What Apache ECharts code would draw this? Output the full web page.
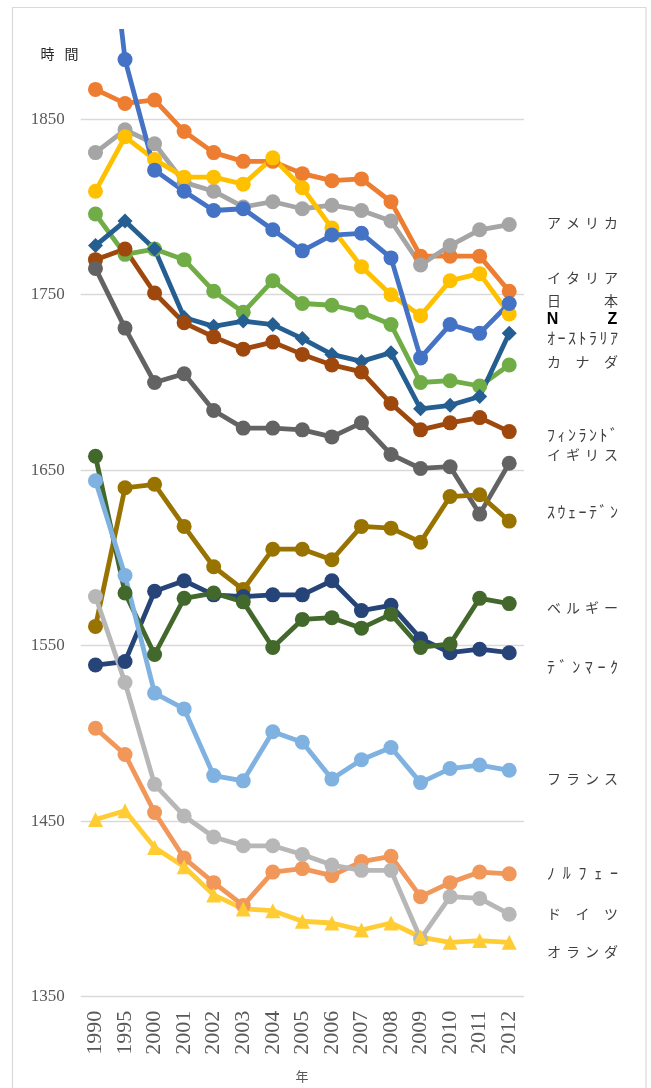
<!DOCTYPE html>
<html><head><meta charset="utf-8">
<script src="https://cdn.jsdelivr.net/npm/echarts@6/dist/echarts.min.js"></script>
<style>html,body{margin:0;padding:0;background:#fff}#c{width:651px;height:1088px}</style>
</head><body><div id="c"></div>
<script>
// ---- data ----
const years = ['1990','1995','2000','2001','2002','2003','2004','2005','2006','2007','2008','2009','2010','2011','2012'];
const yTickLabels = [1350, 1450, 1550, 1650, 1750, 1850];

const italy       = [1867, 1859, 1861, 1843, 1831, 1826, 1826, 1819, 1815, 1816, 1803, 1772, 1772, 1772, 1752];
const usa         = [1831, 1844, 1836, 1814, 1809, 1800, 1803, 1799, 1801, 1798, 1792, 1767, 1778, 1787, 1790];
const nz          = [1809, 1840, 1827, 1817, 1817, 1813, 1828, 1811, 1788, 1766, 1750, 1738, 1758, 1762, 1739];
const japan       = [2031, 1884, 1821, 1809, 1798, 1799, 1787, 1775, 1784, 1785, 1771, 1714, 1733, 1728, 1745];
const canada      = [1796, 1773, 1776, 1770, 1752, 1740, 1758, 1745, 1744, 1740, 1733, 1700, 1701, 1698, 1710];
const australia   = [1778, 1792, 1776, 1737, 1732, 1735, 1733, 1725, 1716, 1712, 1717, 1685, 1687, 1692, 1728];
const finland     = [1770, 1776, 1751, 1734, 1726, 1719, 1723, 1716, 1710, 1706, 1688, 1673, 1677, 1680, 1672];
const uk          = [1765, 1731, 1700, 1705, 1684, 1674, 1674, 1673, 1669, 1677, 1659, 1651, 1652, 1625, 1654];
const sweden      = [1561, 1640, 1642, 1618, 1595, 1582, 1605, 1605, 1599, 1618, 1617, 1609, 1635, 1636, 1621];
const denmark     = [1539, 1541, 1581, 1587, 1579, 1578, 1579, 1579, 1587, 1570, 1573, 1554, 1546, 1548, 1546];
const belgium     = [1658, 1580, 1545, 1577, 1580, 1575, 1549, 1565, 1566, 1560, 1568, 1549, 1551, 1577, 1574];
const france      = [1644, 1590, 1523, 1514, 1476, 1473, 1501, 1495, 1474, 1485, 1492, 1472, 1480, 1482, 1479];
const norway      = [1503, 1488, 1455, 1429, 1415, 1402, 1421, 1423, 1419, 1427, 1430, 1407, 1415, 1421, 1420];
const germany     = [1578, 1529, 1471, 1453, 1441, 1436, 1436, 1431, 1425, 1422, 1422, 1383, 1407, 1406, 1397];
const netherlands = [1451, 1456, 1435, 1424, 1408, 1400, 1399, 1393, 1392, 1388, 1392, 1384, 1381, 1382, 1381];

const seriesNames = ['イタリア','アメリカ','NZ','日本','カナダ','オーストラリア','フィンランド','イギリス','スウェーデン','デンマーク','ベルギー','フランス','ノルウェー','ドイツ','オランダ'];
const seriesData  = [italy, usa, nz, japan, canada, australia, finland, uk, sweden, denmark, belgium, france, norway, germany, netherlands];

// name labels shown at the right (text as in the picture)
const sideLabels = ['アメリカ','イタリア','日本','NZ','ｵｰｽﾄﾗﾘｱ','カナダ','ﾌｨﾝﾗﾝﾄﾞ','イギリス','ｽｳｪｰﾃﾞﾝ','ベルギー','ﾃﾞﾝﾏｰｸ','フランス','ﾉﾙﾌｪｰ','ドイツ','オランダ'];

// ---- styles / layout ----
const colors  = ['#ED7D31','#A5A5A5','#FFC000','#4472C4','#70AD47','#255E91','#9E480E','#636363','#997300','#264478','#43682B','#7FB2E0','#F1975A','#B7B7B7','#FFCD33'];
const symbols = ['circle','circle','circle','circle','circle','diamond','circle','circle','circle','circle','circle','circle','circle','circle','triangle'];
const sideLabelY = [222.7, 278, 301, 320, 338.3, 361.7, 435, 455, 511.7, 608, 666.7, 779, 873.3, 913.3, 952];

function isHalf(ch){ const c = ch.charCodeAt(0); return c >= 0xFF61 && c <= 0xFF9F; }
function isLatin(ch){ return ch.charCodeAt(0) < 0x100; }

function spreadText(str, x0, W, cy, opts){
  const chars = Array.from(str);
  const n = chars.length;
  const out = [];
  chars.forEach((ch, i) => {
    const half = isHalf(ch), latin = isLatin(ch);
    const cw = latin ? opts.latinW : (half ? opts.halfFs/2 : opts.fs);
    const step = n > 1 ? (W - cw) / (n - 1) : 0;
    const cx = x0 + cw/2 + i*step;
    out.push({
      type: 'text', x: cx, y: cy, silent: true,
      style: {
        text: ch, align: 'center', verticalAlign: 'middle',
        font: latin ? ('bold ' + opts.latinFs + 'px "Liberation Sans", Arial, sans-serif')
                    : ((half ? opts.halfFs : opts.fs) + 'px "Noto Sans CJK JP", sans-serif'),
        fill: latin ? '#000000' : opts.color
      }
    });
  });
  return out;
}

const graphics = [];
graphics.push({ type:'rect', silent:true, shape:{x:12.5, y:7.5, width:633.5, height:1100}, style:{fill:'none', stroke:'#D9D9D9', lineWidth:1.2}, z:-10 });
sideLabels.forEach((s, i) => {
  spreadText(s, 547, 71, sideLabelY[i], {fs:14, halfFs:16, latinW:11, latinFs:16, color:'#404040'}).forEach(g => graphics.push(g));
});
spreadText('時間', 40.5, 38, 53.3, {fs:14, halfFs:14, latinW:10, latinFs:14, color:'#262626'}).forEach(g => graphics.push(g));
graphics.push({ type:'text', x:302, y:1076, silent:true, style:{ text:'年', align:'center', verticalAlign:'middle', font:'13px "Noto Sans CJK JP", sans-serif', fill:'#595959' } });

const chart = echarts.init(document.getElementById('c'), null, {renderer:'canvas'});
chart.setOption({
  animation: false,
  backgroundColor: '#ffffff',
  grid: { left: 80.7, right: 127, top: 31.5, bottom: 91.3, containLabel: false },
  xAxis: {
    type: 'category', data: years, boundaryGap: true,
    axisLine: { show: false }, axisTick: { show: false },
    axisLabel: { rotate: 90, margin: 14, fontFamily: '"Liberation Serif", serif', fontSize: 22, color: '#595959', interval: 0 },
    splitLine: { show: false }
  },
  yAxis: {
    type: 'value', min: 1350, max: 1900, interval: 50,
    axisLine: { show: false }, axisTick: { show: false },
    axisLabel: {
      margin: 16, fontFamily: '"Liberation Serif", serif', fontSize: 17, color: '#595959',
      formatter: v => yTickLabels.indexOf(v) >= 0 ? String(v) : ''
    },
    splitLine: { show: true, showMaxLine: false, lineStyle: { color: ['#D9D9D9', 'rgba(0,0,0,0)'], width: 1.3 } }
  },
  series: seriesData.map((d, i) => ({
    name: seriesNames[i], type: 'line', data: d,
    symbol: symbols[i], symbolSize: 15,
    showAllSymbol: true, clip: true,
    lineStyle: { color: colors[i], width: 4.8 },
    itemStyle: { color: colors[i] },
    emphasis: { disabled: true }, silent: true
  })),
  graphic: graphics
});
</script>
</body></html>
